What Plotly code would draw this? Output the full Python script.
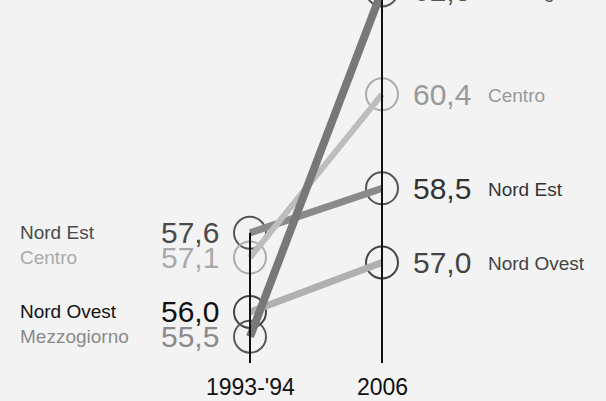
import plotly.graph_objects as go

regions = ["Nord Est", "Centro", "Nord Ovest", "Mezzogiorno"]
v_1994 = [57.6, 57.1, 56.0, 55.5]
v_2006 = [58.5, 60.4, 57.0, 62.5]
periods = ["1993-'94", "2006"]

line_colors = ["#8a8a8a", "#bdbdbd", "#b0b0b0", "#787878"]
line_widths = [7, 6, 7, 8]
circle_colors = ["#555555", "#acacac", "#444444", "#585858"]
left_colors = ["#4a4a4a", "#aaaaaa", "#111111", "#8a8a8a"]
right_colors = ["#333333", "#999999", "#444444", "#555555"]

W, H = 606, 401
OFF = 40                      # part of the figure scrolled above the visible window
PX_PER_UNIT = 49.45
YMAX = 62.308 + OFF / PX_PER_UNIT
YMIN = YMAX - (H + OFF) / PX_PER_UNIT
XMIN = -250 / 132
XMAX = XMIN + W / 132
FONT = "Liberation Sans, Arial, Helvetica, sans-serif"


def fmt(v):
    return f"{v:.1f}".replace(".", ",")


fig = go.Figure()
xs = [0, 1]

# circles
for i, r in enumerate(regions):
    fig.add_trace(go.Scatter(
        x=xs, y=[v_1994[i], v_2006[i]], mode="markers",
        marker=dict(symbol="circle-open", size=32, color=circle_colors[i],
                    line=dict(color=circle_colors[i], width=2)),
        cliponaxis=False, hoverinfo="skip", showlegend=False))

# slope lines
for i, r in enumerate(regions):
    fig.add_trace(go.Scatter(
        x=xs, y=[v_1994[i], v_2006[i]], mode="lines",
        line=dict(color=line_colors[i], width=line_widths[i]),
        cliponaxis=False, hoverinfo="skip", showlegend=False, name=r))

bottom_v = YMAX - (363 + OFF) / PX_PER_UNIT
# vertical guide lines
fig.add_shape(type="line", x0=0, x1=0, y0=max(v_1994), y1=bottom_v,
              xref="x", yref="y", line=dict(color="#111111", width=2), layer="above")
fig.add_shape(type="line", x0=1, x1=1, y0=YMAX, y1=bottom_v,
              xref="x", yref="y", line=dict(color="#111111", width=2), layer="above")

ann = []
for i, r in enumerate(regions):
    ann.append(dict(x=0, y=v_1994[i], xref="x", yref="y", text=fmt(v_1994[i]),
                    xanchor="right", yanchor="middle", xshift=-29, showarrow=False,
                    font=dict(family=FONT, size=30, color=left_colors[i])))
    ann.append(dict(x=18 / W, y=v_1994[i], xref="paper", yref="y", text=r,
                    xanchor="left", yanchor="middle", showarrow=False,
                    font=dict(family=FONT, size=19, color=left_colors[i])))
    ann.append(dict(x=1, y=v_2006[i], xref="x", yref="y", text=fmt(v_2006[i]),
                    xanchor="left", yanchor="middle", xshift=29, showarrow=False,
                    font=dict(family=FONT, size=30, color=right_colors[i])))
    ann.append(dict(x=1, y=v_2006[i], xref="x", yref="y", text=r,
                    xanchor="left", yanchor="middle", xshift=104, yshift=-1, showarrow=False,
                    font=dict(family=FONT, size=19, color=right_colors[i])))

for j, p in enumerate(periods):
    ann.append(dict(x=xs[j], y=1 - (387 + OFF) / (H + OFF), xref="x", yref="paper", text=p,
                    xanchor="center", yanchor="middle", showarrow=False,
                    font=dict(family=FONT, size=23, color="#111111")))

fig.update_layout(
    width=W, height=H + OFF,
    margin=dict(l=0, r=0, t=0, b=0),
    paper_bgcolor="#f3f3f3", plot_bgcolor="#f3f3f3",
    xaxis=dict(range=[XMIN, XMAX], visible=False, fixedrange=True),
    yaxis=dict(range=[YMIN, YMAX], visible=False, fixedrange=True),
    annotations=ann,
    showlegend=False,
)

fig.write_html(
    "out.html", config={"displayModeBar": False},
    post_script=("document.body.style.margin='0';document.body.style.overflow='hidden';"
                 "document.querySelectorAll('.plotly-graph-div').forEach(function(d){"
                 "d.style.marginTop='-%dpx';});" % OFF))
